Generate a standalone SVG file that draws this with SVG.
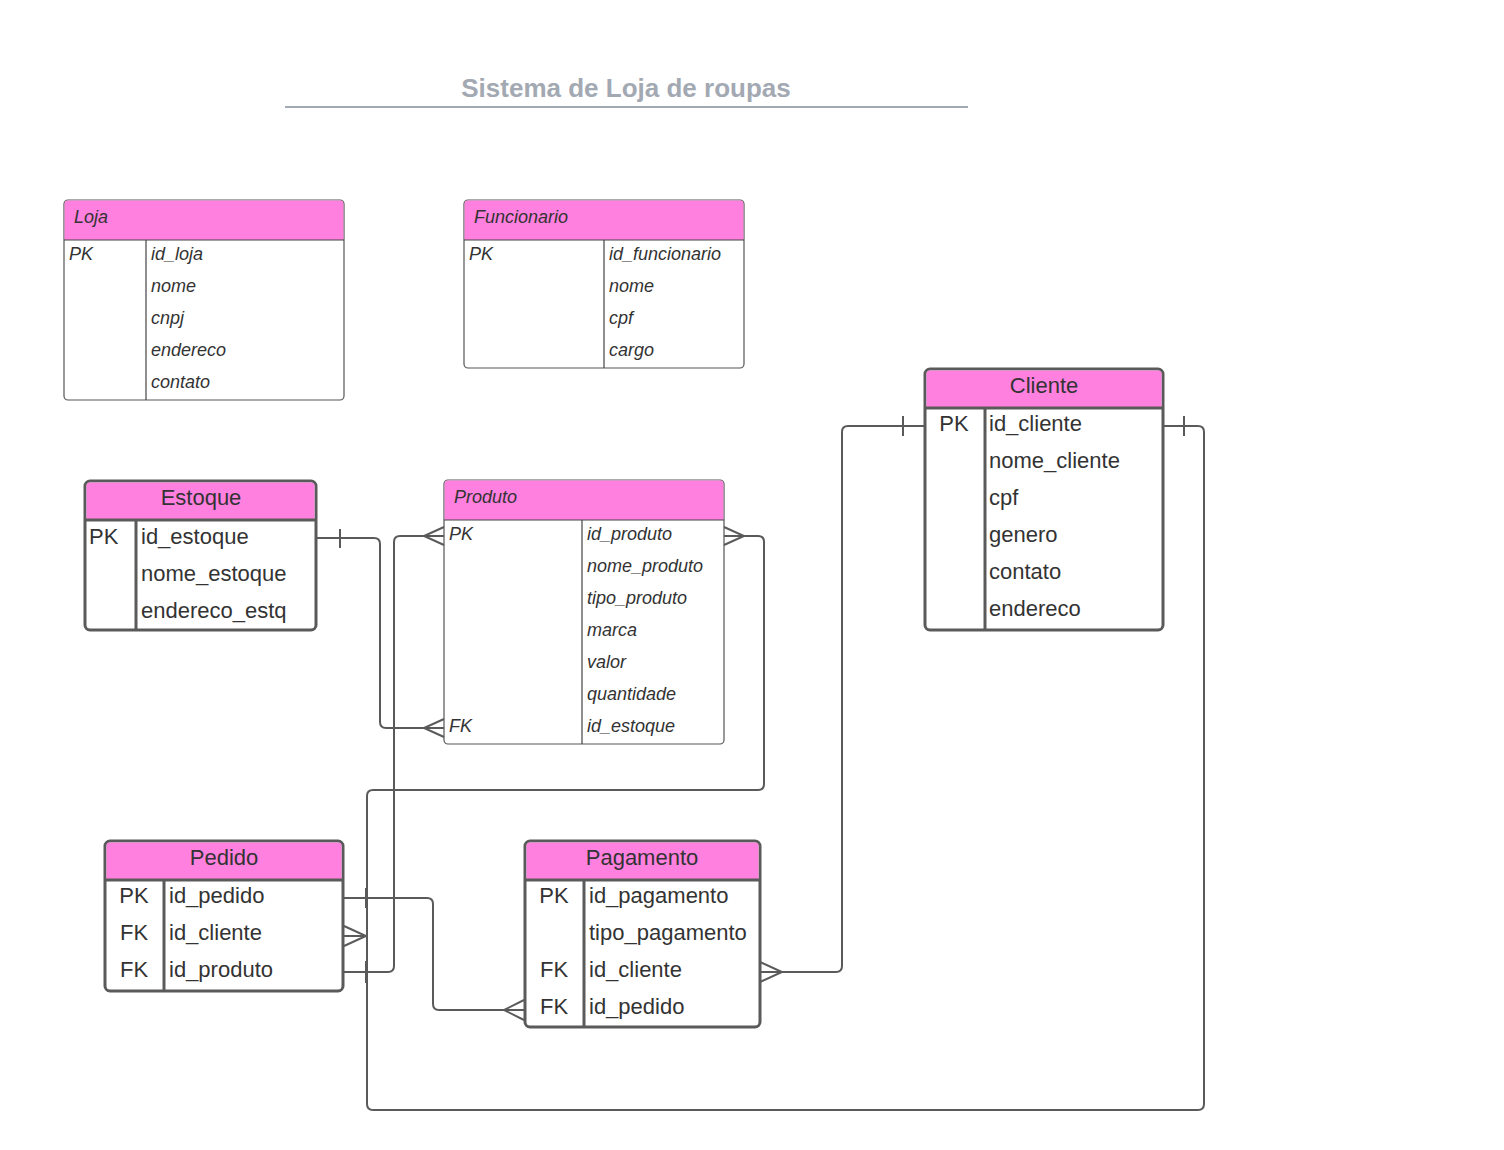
<svg xmlns="http://www.w3.org/2000/svg" width="1504" height="1150" viewBox="0 0 1504 1150">
<style>
.thin{fill:#fff;stroke:#555;stroke-width:1.2}
.thick{fill:#fff;stroke:#5a5a5a;stroke-width:3}
.hd{fill:#ff80df}
.tl{stroke:#444;stroke-width:1.2;fill:none}
.kl{stroke:#5a5a5a;stroke-width:3;fill:none}
.it{font-family:"Liberation Sans",Arial,sans-serif;font-style:italic;font-size:18px;fill:#333}
.nt{font-family:"Liberation Sans",Arial,sans-serif;font-size:22px;fill:#333}
.c{stroke:#5a5a5a;stroke-width:2;fill:none}
</style>
<rect width="1504" height="1150" fill="#fff"/>
<g id="title">
<text x="626" y="97" text-anchor="middle" font-family="'Liberation Sans',Arial,sans-serif" font-weight="bold" font-size="26" fill="#a3a9b3">Sistema de Loja de roupas</text>
<line x1="285" y1="107" x2="968" y2="107" stroke="#a3a9b3" stroke-width="2"/>
</g>
<g id="loja">
<rect class="thin" x="64" y="200" width="280" height="200" rx="4"/>
<path class="hd" d="M64.6,240 V204 Q64.6,200.6 68,200.6 H340 Q343.4,200.6 343.4,204 V240 Z"/>
<line class="tl" x1="64" y1="240" x2="344" y2="240"/>
<line class="tl" x1="146" y1="240" x2="146" y2="400"/>
<text class="it" x="74" y="223">Loja</text>
<text class="it" x="69" y="260">PK</text>
<text class="it" x="151" y="260">id_loja</text>
<text class="it" x="151" y="292">nome</text>
<text class="it" x="151" y="324">cnpj</text>
<text class="it" x="151" y="356">endereco</text>
<text class="it" x="151" y="388">contato</text>
</g>
<g id="funcionario">
<rect class="thin" x="464" y="200" width="280" height="168" rx="4"/>
<path class="hd" d="M464.6,240 V204 Q464.6,200.6 468,200.6 H740 Q743.4,200.6 743.4,204 V240 Z"/>
<line class="tl" x1="464" y1="240" x2="744" y2="240"/>
<line class="tl" x1="604" y1="240" x2="604" y2="368"/>
<text class="it" x="474" y="223">Funcionario</text>
<text class="it" x="469" y="260">PK</text>
<text class="it" x="609" y="260">id_funcionario</text>
<text class="it" x="609" y="292">nome</text>
<text class="it" x="609" y="324">cpf</text>
<text class="it" x="609" y="356">cargo</text>
</g>
<g id="produto">
<rect class="thin" x="444" y="480" width="280" height="264" rx="4"/>
<path class="hd" d="M444.6,520 V484 Q444.6,480.6 448,480.6 H720 Q723.4,480.6 723.4,484 V520 Z"/>
<line class="tl" x1="444" y1="520" x2="724" y2="520"/>
<line class="tl" x1="582" y1="520" x2="582" y2="744"/>
<text class="it" x="454" y="503">Produto</text>
<text class="it" x="449" y="540">PK</text>
<text class="it" x="587" y="540">id_produto</text>
<text class="it" x="587" y="572">nome_produto</text>
<text class="it" x="587" y="604">tipo_produto</text>
<text class="it" x="587" y="636">marca</text>
<text class="it" x="587" y="668">valor</text>
<text class="it" x="587" y="700">quantidade</text>
<text class="it" x="449" y="732">FK</text>
<text class="it" x="587" y="732">id_estoque</text>
</g>
<g id="estoque">
<rect class="thick" x="85" y="481" width="231" height="149" rx="5"/>
<path class="hd" d="M86.5,520 V486 Q86.5,482.5 90,482.5 H311 Q314.5,482.5 314.5,486 V520 Z"/>
<line class="kl" x1="85" y1="520" x2="316" y2="520"/>
<line class="kl" x1="136" y1="520" x2="136" y2="630"/>
<text class="nt" x="201" y="505" text-anchor="middle">Estoque</text>
<text class="nt" x="89" y="544">PK</text>
<text class="nt" x="141" y="544">id_estoque</text>
<text class="nt" x="141" y="581">nome_estoque</text>
<text class="nt" x="141" y="618">endereco_estq</text>
</g>
<g id="cliente">
<rect class="thick" x="925" y="369" width="238" height="261" rx="5"/>
<path class="hd" d="M926.5,408 V374 Q926.5,370.5 930,370.5 H1158 Q1161.5,370.5 1161.5,374 V408 Z"/>
<line class="kl" x1="925" y1="408" x2="1163" y2="408"/>
<line class="kl" x1="985" y1="408" x2="985" y2="630"/>
<text class="nt" x="1044" y="393" text-anchor="middle">Cliente</text>
<text class="nt" x="954" y="431" text-anchor="middle">PK</text>
<text class="nt" x="989" y="431">id_cliente</text>
<text class="nt" x="989" y="468">nome_cliente</text>
<text class="nt" x="989" y="505">cpf</text>
<text class="nt" x="989" y="542">genero</text>
<text class="nt" x="989" y="579">contato</text>
<text class="nt" x="989" y="616">endereco</text>
</g>
<g id="pedido">
<rect class="thick" x="105" y="841" width="238" height="150" rx="5"/>
<path class="hd" d="M106.5,880 V846 Q106.5,842.5 110,842.5 H338 Q341.5,842.5 341.5,846 V880 Z"/>
<line class="kl" x1="105" y1="880" x2="343" y2="880"/>
<line class="kl" x1="164" y1="880" x2="164" y2="991"/>
<text class="nt" x="224" y="865" text-anchor="middle">Pedido</text>
<text class="nt" x="134" y="903" text-anchor="middle">PK</text>
<text class="nt" x="169" y="903">id_pedido</text>
<text class="nt" x="134" y="940" text-anchor="middle">FK</text>
<text class="nt" x="169" y="940">id_cliente</text>
<text class="nt" x="134" y="977" text-anchor="middle">FK</text>
<text class="nt" x="169" y="977">id_produto</text>
</g>
<g id="pagamento">
<rect class="thick" x="525" y="841" width="235" height="186" rx="5"/>
<path class="hd" d="M526.5,880 V846 Q526.5,842.5 530,842.5 H755 Q758.5,842.5 758.5,846 V880 Z"/>
<line class="kl" x1="525" y1="880" x2="760" y2="880"/>
<line class="kl" x1="584" y1="880" x2="584" y2="1027"/>
<text class="nt" x="642" y="865" text-anchor="middle">Pagamento</text>
<text class="nt" x="554" y="903" text-anchor="middle">PK</text>
<text class="nt" x="589" y="903">id_pagamento</text>
<text class="nt" x="589" y="940">tipo_pagamento</text>
<text class="nt" x="554" y="977" text-anchor="middle">FK</text>
<text class="nt" x="589" y="977">id_cliente</text>
<text class="nt" x="554" y="1014" text-anchor="middle">FK</text>
<text class="nt" x="589" y="1014">id_pedido</text>
</g>
<g id="connectors">
<path class="c" d="M317,538 H374 Q380,538 380,544 V722 Q380,728 386,728 H444"/>
<path class="c" d="M340,529 V548 M444,719 L424,728 L444,737"/>
<path class="c" d="M343,972 H388 Q394,972 394,966 V542 Q394,536 400,536 H444"/>
<path class="c" d="M366,961 V983 M444,527 L424,536 L444,545"/>
<path class="c" d="M724,536 H758 Q764,536 764,542 V784 Q764,790 758,790 H373 Q367,790 367,796 V1104 Q367,1110 373,1110 H1198 Q1204,1110 1204,1104 V432 Q1204,426 1198,426 H1163"/>
<path class="c" d="M724,527 L744,536 L724,545 M1184,416 V436"/>
<path class="c" d="M344,926 L366,936 L344,946 M344,936 H366"/>
<path class="c" d="M343,898 H427 Q433,898 433,904 V1004 Q433,1010 439,1010 H524"/>
<path class="c" d="M366,888 V908 M524,1000 L504,1010 L524,1020"/>
<path class="c" d="M760,972 H836 Q842,972 842,966 V432 Q842,426 848,426 H924"/>
<path class="c" d="M760,962 L782,972 L760,982 M903,416 V436"/>
</g>
</svg>
